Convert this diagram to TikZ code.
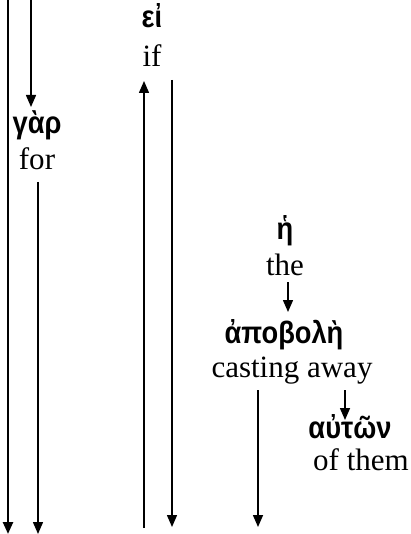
\documentclass[tikz,border=0pt]{standalone}
\usepackage{fontspec}
\setmainfont{Liberation Serif}
\newfontfamily\gk[FakeStretch=0.88]{Liberation Sans}
\usetikzlibrary{arrows.meta}
\begin{document}
\begin{tikzpicture}[x=1pt,y=-1pt,
  en/.style={font=\fontsize{31}{32}\selectfont, inner sep=0pt, anchor=base},
  gr/.style={font=\gk\bfseries\fontsize{31}{32}\selectfont, inner sep=0pt, anchor=base},
  arr/.style={line width=1.5pt, -{Triangle[length=12pt,width=10pt]}}]
\useasboundingbox (0,0) rectangle (410,534);
% words
\node[gr] (ei) at (152,28) {εἰ};
\node[en] (if) at (152,67) {if};
\node[gr] (gar) at (37,134) {γὰρ};
\node[en] (for) at (37,170) {for};
\node[gr] (he) at (285,239) {ἡ};
\node[en] (the) at (285,275) {the};
\node[gr] (apo) at (284,343) {ἀποβολὴ};
\node[en] (cast) at (292,377) {casting away};
\node[gr] (aut) at (350,438) {αὐτῶν};
\node[en] (ofth) at (361,470) {of them};
% free ends
\coordinate (t1) at (8,0);
\coordinate (b1) at (8,534);
\coordinate (t2) at (31,0);
\coordinate (g1) at (31,107);
\coordinate (f1) at (38,182);
\coordinate (b2) at (38,534);
\coordinate (b3) at (144,528);
\coordinate (i1) at (144,81);
\coordinate (i2) at (172,80);
\coordinate (b4) at (172,527);
\coordinate (h1) at (288,282);
\coordinate (a1) at (288,312);
\coordinate (a2) at (258,390);
\coordinate (b5) at (258,527);
\coordinate (a3) at (345,390);
\coordinate (u1) at (345,420);
% connectors
\draw[arr, line width=2.4pt] (t1) -- (b1);
\draw[arr] (t2) -- (g1);
\draw[arr] (f1) -- (b2);
\draw[arr] (b3) -- (i1);
\draw[arr] (i2) -- (b4);
\draw[arr] (h1) -- (a1);
\draw[arr] (a2) -- (b5);
\draw[arr] (a3) -- (u1);
\end{tikzpicture}
\end{document}
